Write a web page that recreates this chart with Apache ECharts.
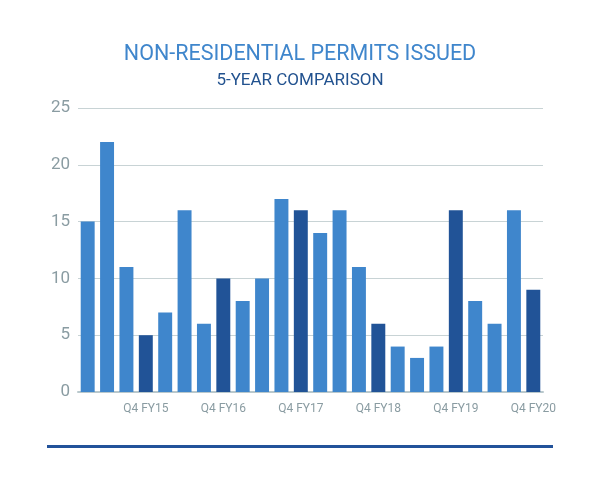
<!DOCTYPE html>
<html><head><meta charset="utf-8">
<script src="https://cdn.jsdelivr.net/npm/echarts@6/dist/echarts.min.js"></script>
<style>html,body{margin:0;padding:0;background:#fff}#c{width:600px;height:491px}</style>
</head><body><div id="c"></div>
<script>
const categories = ['Q1 FY15','Q2 FY15','Q3 FY15','Q4 FY15','Q1 FY16','Q2 FY16','Q3 FY16','Q4 FY16','Q1 FY17','Q2 FY17','Q3 FY17','Q4 FY17','Q1 FY18','Q2 FY18','Q3 FY18','Q4 FY18','Q1 FY19','Q2 FY19','Q3 FY19','Q4 FY19','Q1 FY20','Q2 FY20','Q3 FY20','Q4 FY20'];
const permits = [15,22,11,5,7,16,6,10,8,10,17,16,14,16,11,6,4,3,4,16,8,6,16,9];
const yTicks = [0,5,10,15,20,25];
const titleText = 'NON-RESIDENTIAL PERMITS ISSUED';
const subtitleText = '5-YEAR COMPARISON';

const FONT = 'Roboto, sans-serif';
const chart = echarts.init(document.getElementById('c'));
chart.setOption({
  animation: false,
  backgroundColor: '#fff',
  title: {
    text: titleText, subtext: subtitleText, left: 'center', top: 39, itemGap: 6,
    textStyle: {fontFamily: FONT, fontSize: 21.5, fontWeight: 'normal', color: '#3f86cc'},
    subtextStyle: {fontFamily: FONT, fontSize: 17, color: '#22528f'}
  },
  grid: {left: 78, right: 57, top: 108, bottom: 99},
  xAxis: {
    type: 'category', data: categories,
    axisLine: {lineStyle: {color: '#b9c8cc', width: 2}},
    axisTick: {show: false},
    axisLabel: {interval: 0, margin: 11, fontFamily: FONT, fontSize: 12, color: '#8a9ca2',
      formatter: v => v.startsWith('Q4') ? v : ''}
  },
  yAxis: {
    type: 'value', min: yTicks[0], max: yTicks[yTicks.length-1], interval: 5,
    axisLine: {show: false}, axisTick: {show: false},
    splitLine: {lineStyle: {color: '#c8d3d5', width: 1}},
    axisLabel: {margin: 8, fontFamily: FONT, fontSize: 17, color: '#8a9ca2'}
  },
  series: [{
    type: 'bar', data: permits.map((v, i) => ({
      value: v,
      itemStyle: {color: categories[i].startsWith('Q4') ? '#215397' : '#3f86cc'}
    })),
    barCategoryGap: '28%'
  }],
  graphic: [
    {type: 'rect', shape: {x: 47, y: 445, width: 506, height: 3},
     style: {fill: '#22529a'}}
  ]
});
</script></body></html>
